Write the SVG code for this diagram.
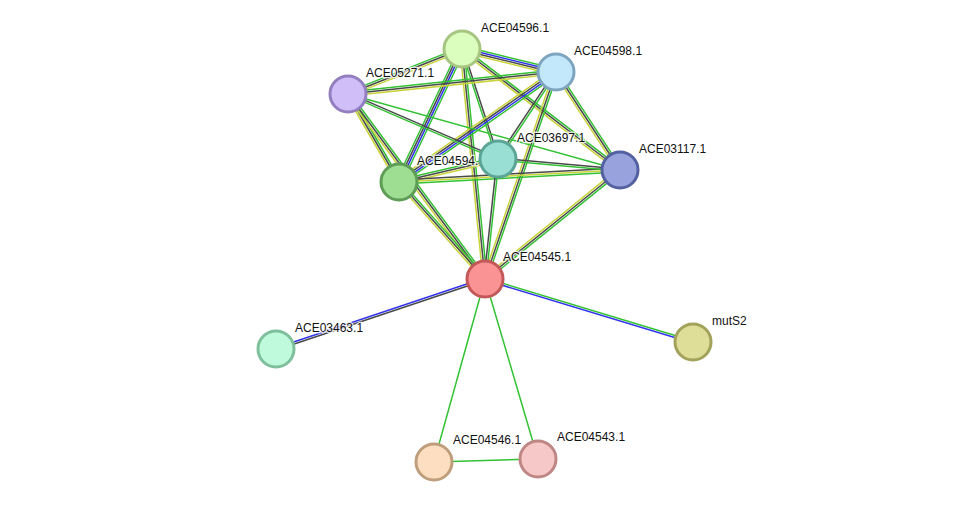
<svg xmlns="http://www.w3.org/2000/svg" width="975" height="507" viewBox="0 0 975 507">
<style>
line{stroke-width:1.5;fill:none}
.g{stroke:#33c233}.y{stroke:#c8d43a}.k{stroke:#4a4a4a}.b{stroke:#3333ee}
circle{stroke-width:3}
text{font-family:"Liberation Sans",Arial,sans-serif;font-size:12px;fill:#111;stroke:#fff;stroke-width:2.5;paint-order:stroke;stroke-opacity:0.8}
</style>
<rect width="975" height="507" fill="#fff"/>
<g id="edges">
<g id="AB"><line x1="462" y1="49" x2="556" y2="72" class="g" transform="translate(0.71,-2.91)"/><line x1="462" y1="49" x2="556" y2="72" class="b" transform="translate(0.24,-0.97)"/><line x1="462" y1="49" x2="556" y2="72" class="k" transform="translate(-0.24,0.97)"/><line x1="462" y1="49" x2="556" y2="72" class="y" transform="translate(-0.71,2.91)"/></g>
<g id="AC"><line x1="462" y1="49" x2="348" y2="94" class="y" transform="translate(0.73,1.86)"/><line x1="462" y1="49" x2="348" y2="94" class="k"/><line x1="462" y1="49" x2="348" y2="94" class="g" transform="translate(-0.73,-1.86)"/></g>
<g id="AF"><line x1="462" y1="49" x2="399" y2="182" class="g" transform="translate(2.71,1.28)"/><line x1="462" y1="49" x2="399" y2="182" class="b" transform="translate(0.9,0.43)"/><line x1="462" y1="49" x2="399" y2="182" class="k" transform="translate(-0.9,-0.43)"/><line x1="462" y1="49" x2="399" y2="182" class="g" transform="translate(-2.71,-1.28)"/></g>
<g id="AD"><line x1="462" y1="49" x2="498" y2="159" class="k" transform="translate(0.95,-0.31)"/><line x1="462" y1="49" x2="498" y2="159" class="g" transform="translate(-0.95,0.31)"/></g>
<g id="AE"><line x1="462" y1="49" x2="620" y2="170" class="g" transform="translate(1.22,-1.59)"/><line x1="462" y1="49" x2="620" y2="170" class="k"/><line x1="462" y1="49" x2="620" y2="170" class="y" transform="translate(-1.22,1.59)"/></g>
<g id="AG"><line x1="462" y1="49" x2="485" y2="279" class="g" transform="translate(1.99,-0.2)"/><line x1="462" y1="49" x2="485" y2="279" class="k"/><line x1="462" y1="49" x2="485" y2="279" class="y" transform="translate(-1.99,0.2)"/></g>
<g id="BC"><line x1="556" y1="72" x2="348" y2="94" class="y" transform="translate(0.21,1.99)"/><line x1="556" y1="72" x2="348" y2="94" class="k"/><line x1="556" y1="72" x2="348" y2="94" class="g" transform="translate(-0.21,-1.99)"/></g>
<g id="BF"><line x1="556" y1="72" x2="399" y2="182" class="g" transform="translate(1.72,2.46)"/><line x1="556" y1="72" x2="399" y2="182" class="b" transform="translate(0.57,0.82)"/><line x1="556" y1="72" x2="399" y2="182" class="k" transform="translate(-0.57,-0.82)"/><line x1="556" y1="72" x2="399" y2="182" class="y" transform="translate(-1.72,-2.46)"/></g>
<g id="BD"><line x1="556" y1="72" x2="498" y2="159" class="g" transform="translate(0.83,0.55)"/><line x1="556" y1="72" x2="498" y2="159" class="k" transform="translate(-0.83,-0.55)"/></g>
<g id="BE"><line x1="556" y1="72" x2="620" y2="170" class="g" transform="translate(1.68,-1.09)"/><line x1="556" y1="72" x2="620" y2="170" class="k"/><line x1="556" y1="72" x2="620" y2="170" class="y" transform="translate(-1.68,1.09)"/></g>
<g id="BG"><line x1="556" y1="72" x2="485" y2="279" class="g" transform="translate(1.89,0.65)"/><line x1="556" y1="72" x2="485" y2="279" class="k"/><line x1="556" y1="72" x2="485" y2="279" class="y" transform="translate(-1.89,-0.65)"/></g>
<g id="CF"><line x1="348" y1="94" x2="399" y2="182" class="g" transform="translate(1.73,-1)"/><line x1="348" y1="94" x2="399" y2="182" class="k"/><line x1="348" y1="94" x2="399" y2="182" class="y" transform="translate(-1.73,1)"/></g>
<g id="CD"><line x1="348" y1="94" x2="498" y2="159" class="k" transform="translate(0.4,-0.92)"/><line x1="348" y1="94" x2="498" y2="159" class="g" transform="translate(-0.4,0.92)"/></g>
<g id="CE"><line x1="348" y1="94" x2="620" y2="170" class="g"/></g>
<g id="CG"><line x1="348" y1="94" x2="485" y2="279" class="g" transform="translate(1.61,-1.19)"/><line x1="348" y1="94" x2="485" y2="279" class="k"/><line x1="348" y1="94" x2="485" y2="279" class="y" transform="translate(-1.61,1.19)"/></g>
<g id="FD"><line x1="399" y1="182" x2="498" y2="159" class="g" transform="translate(-0.45,-1.95)"/><line x1="399" y1="182" x2="498" y2="159" class="k"/><line x1="399" y1="182" x2="498" y2="159" class="y" transform="translate(0.45,1.95)"/></g>
<g id="FE"><line x1="399" y1="182" x2="620" y2="170" class="k" transform="translate(-0.11,-2)"/><line x1="399" y1="182" x2="620" y2="170" class="y"/><line x1="399" y1="182" x2="620" y2="170" class="g" transform="translate(0.11,2)"/></g>
<g id="FG"><line x1="399" y1="182" x2="485" y2="279" class="g" transform="translate(1.5,-1.33)"/><line x1="399" y1="182" x2="485" y2="279" class="k"/><line x1="399" y1="182" x2="485" y2="279" class="y" transform="translate(-1.5,1.33)"/></g>
<g id="DE"><line x1="498" y1="159" x2="620" y2="170" class="k" transform="translate(0.09,-1)"/><line x1="498" y1="159" x2="620" y2="170" class="g" transform="translate(-0.09,1)"/></g>
<g id="DG"><line x1="498" y1="159" x2="485" y2="279" class="g" transform="translate(0.99,0.11)"/><line x1="498" y1="159" x2="485" y2="279" class="k" transform="translate(-0.99,-0.11)"/></g>
<g id="EG"><line x1="620" y1="170" x2="485" y2="279" class="g" transform="translate(1.26,1.56)"/><line x1="620" y1="170" x2="485" y2="279" class="k"/><line x1="620" y1="170" x2="485" y2="279" class="y" transform="translate(-1.26,-1.56)"/></g>
<g id="GH"><line x1="485" y1="279" x2="276" y2="349" class="b" transform="translate(-0.32,-0.95)"/><line x1="485" y1="279" x2="276" y2="349" class="k" transform="translate(0.32,0.95)"/></g>
<g id="GM"><line x1="485" y1="279" x2="693" y2="342" class="g" transform="translate(0.29,-0.96)"/><line x1="485" y1="279" x2="693" y2="342" class="b" transform="translate(-0.29,0.96)"/></g>
<line x1="485" y1="279" x2="434" y2="462" class="g"/>
<line x1="485" y1="279" x2="538" y2="459" class="g"/>
<line x1="434" y1="462" x2="538" y2="459" class="g"/>
</g>
<g id="ACE04596.1"><circle cx="462" cy="49" r="18" fill="#dbfdbd" stroke="#a5c580"/><text x="481" y="32">ACE04596.1</text></g>
<g id="ACE04598.1"><circle cx="556" cy="72" r="18" fill="#c3e8fc" stroke="#7ea5c0"/><text x="574" y="55">ACE04598.1</text></g>
<g id="ACE05271.1"><circle cx="348" cy="94" r="18" fill="#cfbef8" stroke="#937fc0"/><text x="366" y="77">ACE05271.1</text></g>
<g id="ACE03697.1"><circle cx="498" cy="159" r="18" fill="#99dfd3" stroke="#5aa596"/><text x="517" y="142">ACE03697.1</text></g>
<g id="ACE03117.1"><circle cx="620" cy="170" r="18" fill="#98a3de" stroke="#5361a0"/><text x="639" y="153">ACE03117.1</text></g>
<g id="ACE04594.1"><circle cx="399" cy="182" r="18" fill="#9ede92" stroke="#5e9d55"/><text x="417" y="165">ACE04594.</text></g>
<g id="ACE04545.1"><circle cx="485" cy="279" r="18" fill="#fa9393" stroke="#c45858"/><text x="503" y="261">ACE04545.1</text></g>
<g id="ACE03463.1"><circle cx="276" cy="349" r="18" fill="#c0fadc" stroke="#7ebf9c"/><text x="295" y="332">ACE03463.1</text></g>
<g id="mutS2"><circle cx="693" cy="342" r="18" fill="#dede98" stroke="#a2a25a"/><text x="712" y="325">mutS2</text></g>
<g id="ACE04546.1"><circle cx="434" cy="462" r="18" fill="#fddec0" stroke="#bf9e7c"/><text x="453" y="444">ACE04546.1</text></g>
<g id="ACE04543.1"><circle cx="538" cy="459" r="18" fill="#f7c8c8" stroke="#bf8686"/><text x="557" y="441">ACE04543.1</text></g>
</svg>
